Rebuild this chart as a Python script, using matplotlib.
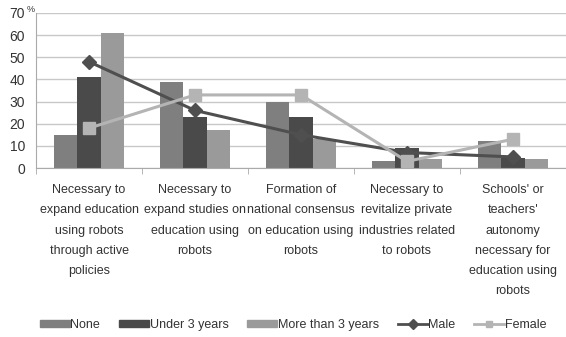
import numpy as np
import matplotlib.pyplot as plt
from matplotlib.lines import Line2D
from matplotlib.patches import Patch

categories = ['Necessary to\nexpand education\nusing robots\nthrough active\npolicies',
              'Necessary to\nexpand studies on\neducation using\nrobots',
              'Formation of\nnational consensus\non education using\nrobots',
              'Necessary to\nrevitalize private\nindustries related\nto robots',
              "Schools' or\nteachers'\nautonomy\nnecessary for\neducation using\nrobots"]
none_vals = [15, 39, 30, 3, 12]
under3_vals = [41, 23, 23, 9, 4.5]
over3_vals = [61, 17, 13, 4, 4.2]
male_vals = [48, 26, 15, 7, 5]
female_vals = [18, 33, 33, 3, 13]
yticks = [0, 10, 20, 30, 40, 50, 60, 70]

plt.rcParams['font.family'] = ['Liberation Sans', 'DejaVu Sans']
txt = '#333333'

fig = plt.figure(figsize=(5.66, 3.37), dpi=100)
ax = fig.add_axes([36 / 566, 1 - 168 / 337, 530 / 566, 155 / 337])

x = np.arange(len(categories))
w = 0.22
ax.bar(x - w, none_vals, w, color='#7f7f7f', zorder=2)
ax.bar(x, under3_vals, w, color='#4a4a4a', zorder=2)
ax.bar(x + w, over3_vals, w, color='#9a9a9a', zorder=2)
ax.plot(x, male_vals, color='#4f4f4f', lw=2.2, marker='D', ms=7, zorder=3)
ax.plot(x, female_vals, color='#b4b4b4', lw=2.2, marker='s', ms=8, zorder=3)

ax.set_xlim(-0.5, len(categories) - 0.5)
ax.set_ylim(0, 70)
ax.set_yticks(yticks)
ax.set_yticklabels([str(t) for t in yticks], fontsize=10, color=txt)
fig.text(27 / 566, 1 - 9 / 337, '%', fontsize=6.5, color=txt, ha='left', va='center')
ax.yaxis.grid(True, color='#c8c8c8', lw=1, zorder=0)
ax.tick_params(axis='y', length=0, pad=8)

# small ticks on the category boundaries
ax.set_xticks(np.arange(len(categories) + 1) - 0.5, minor=True)
ax.set_xticks([])
ax.tick_params(axis='x', which='minor', length=4, color='#aaaaaa', direction='out')
ax.set_xticklabels([], minor=True)
for xi, lab in zip(x, categories):
    ax.text(xi, -7.2, lab, ha='center', va='top', fontsize=9, color=txt,
            linespacing=1.92)

for s in ['top', 'right']:
    ax.spines[s].set_visible(False)
ax.spines['left'].set_color('#aaaaaa')
ax.spines['bottom'].set_color('#aaaaaa')

handles = [Patch(color='#7f7f7f'), Patch(color='#4a4a4a'), Patch(color='#9a9a9a'),
           Line2D([], [], color='#4f4f4f', lw=2, marker='D', ms=5),
           Line2D([], [], color='#b4b4b4', lw=2, marker='s', ms=5)]
labels = ['None', 'Under 3 years', 'More than 3 years', 'Male', 'Female']
fig.legend(handles, labels, loc='center', bbox_to_anchor=(293 / 566, 1 - 325 / 337), ncol=5,
           frameon=False, fontsize=9, handlelength=2.4, handleheight=0.5,
           handletextpad=0.05, columnspacing=1.5, labelcolor=txt)

fig.savefig('out.png', dpi=100)
